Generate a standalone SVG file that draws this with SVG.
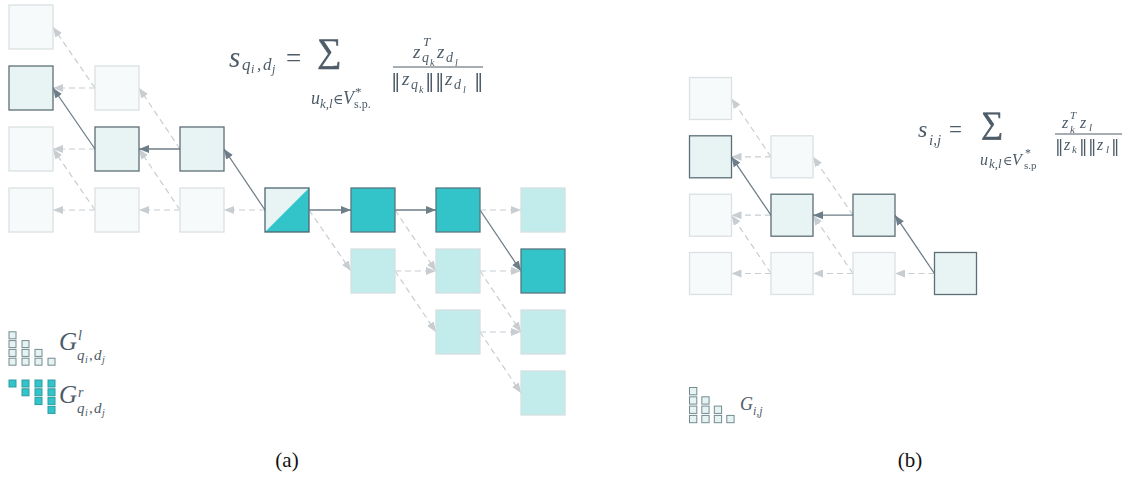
<svg xmlns="http://www.w3.org/2000/svg" width="1130" height="477" viewBox="0 0 1130 477">
<defs>
<style>
.f{fill:#f6fafa;stroke:#dbe1e2;stroke-width:1.3}
.h{fill:#e8f4f4;stroke:#5c6f77;stroke-width:1.3}
.t{fill:#33c4c9;stroke:#587780;stroke-width:1.3}
.lt{fill:#c2ebec;stroke:#d3dfe0;stroke-width:1.3}
.d{fill:none;stroke:#c8cdd1;stroke-width:1.2;stroke-dasharray:6 4;marker-end:url(#ad)}
.s{fill:none;stroke:#6e7e88;stroke-width:1.3;marker-end:url(#as)}
.m{font-family:"Liberation Serif","DejaVu Serif",serif;font-style:italic;fill:#4d5c68}
.n{font-style:normal}
.bar{font-family:"DejaVu Serif","DejaVu Sans",serif;font-style:normal}
.sg{font-family:"Liberation Serif","DejaVu Serif",serif;font-style:normal;fill:#4d5c68;stroke:#4d5c68;stroke-width:0.6}
.lg{fill:#e6f3f3;stroke:#748a90;stroke-width:1}
.lr{fill:#33c4c9;stroke:#2e9ba1;stroke-width:1}
.cap{font-family:"Liberation Serif","DejaVu Serif",serif;font-size:21px;fill:#111}
</style>
<filter id="nf" x="0" y="0" width="1" height="1"><feOffset dx="0" dy="0"/></filter>
<marker id="ad" markerUnits="userSpaceOnUse" viewBox="0 0 10 8" refX="10" refY="4" markerWidth="10" markerHeight="8" orient="auto"><path d="M0,0 L10,4 L0,8 z" fill="#c8cdd1"/></marker>
<marker id="as" markerUnits="userSpaceOnUse" viewBox="0 0 10 8" refX="10" refY="4" markerWidth="10" markerHeight="8" orient="auto"><path d="M0,0 L10,4 L0,8 z" fill="#6e7e88"/></marker>
</defs>

<!-- connectors -->
<g id="connectors">
<!-- panel a left -->
<line class="d" x1="95" y1="88" x2="53" y2="88"/>
<line class="d" x1="95" y1="88" x2="53" y2="27"/>
<line class="d" x1="95" y1="149" x2="53" y2="149"/>
<line class="d" x1="95" y1="210" x2="53" y2="210"/>
<line class="d" x1="95" y1="210" x2="53" y2="149"/>
<line class="d" x1="180" y1="149" x2="139" y2="88"/>
<line class="d" x1="180" y1="210" x2="139" y2="210"/>
<line class="d" x1="180" y1="210" x2="139" y2="149"/>
<line class="d" x1="265" y1="210" x2="224" y2="210"/>
<line class="s" x1="95" y1="149" x2="53" y2="88"/>
<line class="s" x1="180" y1="149" x2="139" y2="149"/>
<line class="s" x1="265" y1="210" x2="224" y2="149"/>
<!-- panel a right -->
<line class="s" x1="309" y1="210" x2="351" y2="210"/>
<line class="s" x1="395" y1="210" x2="436" y2="210"/>
<line class="s" x1="480" y1="210" x2="521" y2="271"/>
<line class="d" x1="309" y1="210" x2="351" y2="271"/>
<line class="d" x1="395" y1="210" x2="436" y2="271"/>
<line class="d" x1="395" y1="271" x2="436" y2="271"/>
<line class="d" x1="395" y1="271" x2="436" y2="332"/>
<line class="d" x1="480" y1="210" x2="521" y2="210"/>
<line class="d" x1="480" y1="271" x2="521" y2="271"/>
<line class="d" x1="480" y1="271" x2="521" y2="332"/>
<line class="d" x1="480" y1="332" x2="521" y2="332"/>
<line class="d" x1="480" y1="332" x2="521" y2="393"/>
<!-- panel b -->
<line class="d" x1="771" y1="156.8" x2="731.5" y2="156.8"/>
<line class="d" x1="771" y1="156.8" x2="731.5" y2="98.5"/>
<line class="d" x1="771" y1="215.2" x2="731.5" y2="215.2"/>
<line class="d" x1="771" y1="273.5" x2="731.5" y2="273.5"/>
<line class="d" x1="771" y1="273.5" x2="731.5" y2="215.2"/>
<line class="d" x1="853" y1="215.2" x2="813" y2="156.8"/>
<line class="d" x1="853" y1="273.5" x2="813" y2="273.5"/>
<line class="d" x1="853" y1="273.5" x2="813" y2="215.2"/>
<line class="d" x1="934.5" y1="273.5" x2="895" y2="273.5"/>
<line class="s" x1="771" y1="215.2" x2="731.5" y2="156.8"/>
<line class="s" x1="853" y1="215.2" x2="813" y2="215.2"/>
<line class="s" x1="934.5" y1="273.5" x2="895" y2="215.2"/>
</g>

<!-- panel a nodes -->
<g id="a-c0r0"><rect class="f" x="9" y="5" width="44" height="44"/></g>
<g id="a-c0r1"><rect class="h" x="9" y="66" width="44" height="44"/></g>
<g id="a-c0r2"><rect class="f" x="9" y="127" width="44" height="44"/></g>
<g id="a-c0r3"><rect class="f" x="9" y="188" width="44" height="44"/></g>
<g id="a-c1r1"><rect class="f" x="95" y="66" width="44" height="44"/></g>
<g id="a-c1r2"><rect class="h" x="95" y="127" width="44" height="44"/></g>
<g id="a-c1r3"><rect class="f" x="95" y="188" width="44" height="44"/></g>
<g id="a-c2r2"><rect class="h" x="180" y="127" width="44" height="44"/></g>
<g id="a-c2r3"><rect class="f" x="180" y="188" width="44" height="44"/></g>
<g id="a-center">
<rect x="265" y="188" width="44" height="44" fill="#e8f4f4"/>
<polygon points="265,232 309,188 309,232" fill="#33c4c9"/>
<rect x="265" y="188" width="44" height="44" fill="none" stroke="#4d6670" stroke-width="1.3"/>
</g>
<g id="a-c4r3"><rect class="t" x="351" y="188" width="44" height="44"/></g>
<g id="a-c4r4"><rect class="lt" x="351" y="249" width="44" height="44"/></g>
<g id="a-c5r3"><rect class="t" x="436" y="188" width="44" height="44"/></g>
<g id="a-c5r4"><rect class="lt" x="436" y="249" width="44" height="44"/></g>
<g id="a-c5r5"><rect class="lt" x="436" y="310" width="44" height="44"/></g>
<g id="a-c6r3"><rect class="lt" x="521" y="188" width="44" height="44"/></g>
<g id="a-c6r4"><rect class="t" x="521" y="249" width="44" height="44"/></g>
<g id="a-c6r5"><rect class="lt" x="521" y="310" width="44" height="44"/></g>
<g id="a-c6r6"><rect class="lt" x="521" y="371" width="44" height="44"/></g>

<!-- panel b nodes -->
<g id="b-c0r0"><rect class="f" x="689.5" y="77.5" width="42" height="42"/></g>
<g id="b-c0r1"><rect class="h" x="689.5" y="135.8" width="42" height="42"/></g>
<g id="b-c0r2"><rect class="f" x="689.5" y="194.2" width="42" height="42"/></g>
<g id="b-c0r3"><rect class="f" x="689.5" y="252.5" width="42" height="42"/></g>
<g id="b-c1r1"><rect class="f" x="771" y="135.8" width="42" height="42"/></g>
<g id="b-c1r2"><rect class="h" x="771" y="194.2" width="42" height="42"/></g>
<g id="b-c1r3"><rect class="f" x="771" y="252.5" width="42" height="42"/></g>
<g id="b-c2r2"><rect class="h" x="853" y="194.2" width="42" height="42"/></g>
<g id="b-c2r3"><rect class="f" x="853" y="252.5" width="42" height="42"/></g>
<g id="b-c3r3"><rect class="h" x="934.5" y="252.5" width="42" height="42"/></g>

<!-- formula a -->
<g id="formula-a" filter="url(#nf)">
<text class="m"><tspan x="229" y="67" font-size="29">s</tspan><tspan x="242" y="70" font-size="17">q</tspan><tspan x="251" y="73" font-size="12">i</tspan><tspan x="257" y="70" font-size="17">,</tspan><tspan x="263" y="70" font-size="17">d</tspan><tspan x="272" y="73" font-size="12">j</tspan></text>
<text class="m n" x="286" y="67" font-size="27">=</text>
<text class="sg" x="329" y="62" font-size="34" text-anchor="middle">∑</text>
<text class="m"><tspan x="311" y="104" font-size="18">u</tspan><tspan x="320" y="108" font-size="13">k,l</tspan><tspan class="n" x="333" y="104" font-size="14">∈</tspan><tspan x="343" y="104" font-size="18">V</tspan><tspan class="n" x="355" y="96" font-size="13">*</tspan><tspan class="n" x="354" y="108" font-size="12">s.p.</tspan></text>
<text class="m"><tspan x="413" y="58" font-size="19">z</tspan><tspan x="423" y="46" font-size="13">T</tspan><tspan x="422" y="62" font-size="14">q</tspan><tspan x="430" y="66" font-size="10">k</tspan><tspan x="437" y="58" font-size="19">z</tspan><tspan x="446" y="62" font-size="14">d</tspan><tspan x="455" y="66" font-size="10">l</tspan></text>
<line x1="393" y1="67" x2="483" y2="67" stroke="#4d5c68" stroke-width="1"/>
<text class="m"><tspan class="bar" x="391" y="87" font-size="19">‖</tspan><tspan x="402" y="85" font-size="19">z</tspan><tspan x="411" y="89" font-size="14">q</tspan><tspan x="419" y="93" font-size="10">k</tspan><tspan class="bar" x="425" y="87" font-size="19">‖</tspan><tspan class="bar" x="435" y="87" font-size="19">‖</tspan><tspan x="445" y="85" font-size="19">z</tspan><tspan x="454" y="89" font-size="14">d</tspan><tspan x="463" y="93" font-size="10">l</tspan><tspan class="bar" x="474" y="87" font-size="19">‖</tspan></text>
</g>

<!-- formula b -->
<g id="formula-b" filter="url(#nf)">
<text class="m"><tspan x="918" y="137" font-size="24">s</tspan><tspan x="929" y="145" font-size="15">i,j</tspan></text>
<text class="m n" x="949" y="137" font-size="23">=</text>
<text class="sg" x="992" y="133" font-size="31" text-anchor="middle">∑</text>
<text class="m"><tspan x="980" y="165" font-size="16">u</tspan><tspan x="989" y="168" font-size="13">k,l</tspan><tspan class="n" x="1003" y="165" font-size="13">∈</tspan><tspan x="1012" y="165" font-size="16">V</tspan><tspan class="n" x="1025" y="157" font-size="12">*</tspan><tspan class="n" x="1024" y="169" font-size="11">s.p</tspan></text>
<text class="m"><tspan x="1062" y="128" font-size="16">z</tspan><tspan x="1070" y="119" font-size="11">T</tspan><tspan x="1070" y="133" font-size="11">k</tspan><tspan x="1080" y="128" font-size="16">z</tspan><tspan x="1089" y="131" font-size="11">l</tspan></text>
<line x1="1055" y1="134" x2="1122" y2="134" stroke="#4d5c68" stroke-width="1"/>
<text class="m"><tspan class="bar" x="1055" y="152" font-size="17">‖</tspan><tspan x="1064" y="150" font-size="16">z</tspan><tspan x="1072" y="153" font-size="11">k</tspan><tspan class="bar" x="1079" y="152" font-size="17">‖</tspan><tspan class="bar" x="1088" y="152" font-size="17">‖</tspan><tspan x="1097" y="150" font-size="16">z</tspan><tspan x="1106" y="153" font-size="11">l</tspan><tspan class="bar" x="1111" y="152" font-size="17">‖</tspan></text>
</g>

<!-- legend a -->
<g id="legend-a-l">
<rect class="lg" x="9" y="331.8" width="7" height="7"/><rect class="lg" x="9" y="340.6" width="7" height="7"/><rect class="lg" x="9" y="349.4" width="7" height="7"/><rect class="lg" x="9" y="358.2" width="7" height="7"/>
<rect class="lg" x="22" y="340.6" width="7" height="7"/><rect class="lg" x="22" y="349.4" width="7" height="7"/><rect class="lg" x="22" y="358.2" width="7" height="7"/>
<rect class="lg" x="35" y="349.4" width="7" height="7"/><rect class="lg" x="35" y="358.2" width="7" height="7"/>
<rect class="lg" x="48" y="358.2" width="7" height="7"/>
<text class="m"><tspan x="59" y="350" font-size="25">G</tspan><tspan x="78" y="340" font-size="14">l</tspan><tspan x="77" y="360" font-size="15">q</tspan><tspan x="85" y="363" font-size="10">i</tspan><tspan x="89" y="360" font-size="15">,</tspan><tspan x="94" y="360" font-size="15">d</tspan><tspan x="102" y="363" font-size="10">j</tspan></text>
</g>
<g id="legend-a-r">
<rect class="lr" x="9" y="380" width="7" height="7"/>
<rect class="lr" x="22" y="380" width="7" height="7"/><rect class="lr" x="22" y="388.8" width="7" height="7"/>
<rect class="lr" x="35" y="380" width="7" height="7"/><rect class="lr" x="35" y="388.8" width="7" height="7"/><rect class="lr" x="35" y="397.6" width="7" height="7"/>
<rect class="lr" x="48" y="380" width="7" height="7"/><rect class="lr" x="48" y="388.8" width="7" height="7"/><rect class="lr" x="48" y="397.6" width="7" height="7"/><rect class="lr" x="48" y="406.4" width="7" height="7"/>
<text class="m"><tspan x="59" y="403" font-size="25">G</tspan><tspan x="78" y="397" font-size="14">r</tspan><tspan x="77" y="413" font-size="15">q</tspan><tspan x="85" y="416" font-size="10">i</tspan><tspan x="89" y="413" font-size="15">,</tspan><tspan x="94" y="413" font-size="15">d</tspan><tspan x="102" y="416" font-size="10">j</tspan></text>
</g>

<!-- legend b -->
<g id="legend-b">
<rect class="lg" x="689.5" y="387.5" width="7.3" height="7.3"/><rect class="lg" x="689.5" y="396.8" width="7.3" height="7.3"/><rect class="lg" x="689.5" y="406.1" width="7.3" height="7.3"/><rect class="lg" x="689.5" y="415.4" width="7.3" height="7.3"/>
<rect class="lg" x="701.8" y="396.8" width="7.3" height="7.3"/><rect class="lg" x="701.8" y="406.1" width="7.3" height="7.3"/><rect class="lg" x="701.8" y="415.4" width="7.3" height="7.3"/>
<rect class="lg" x="714.3" y="406.1" width="7.3" height="7.3"/><rect class="lg" x="714.3" y="415.4" width="7.3" height="7.3"/>
<rect class="lg" x="726.8" y="415.4" width="7.3" height="7.3"/>
<text class="m"><tspan x="740" y="410" font-size="18">G</tspan><tspan x="753" y="415" font-size="12">i,j</tspan></text>
</g>

<g id="captions">
<text class="cap" x="287" y="467" text-anchor="middle">(a)</text>
<text class="cap" x="910" y="467" text-anchor="middle">(b)</text>
</g>
</svg>
